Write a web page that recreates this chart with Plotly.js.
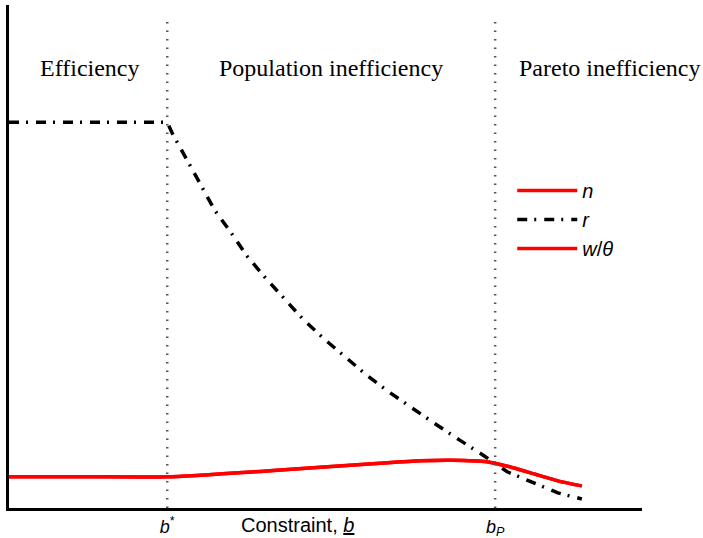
<!DOCTYPE html>
<html>
<head>
<meta charset="utf-8">
<script src="https://cdn.plot.ly/plotly-3.0.1.min.js"></script>
<style>html,body{margin:0;padding:0;background:#fff;}#chart{width:703px;height:538px;}</style>
</head>
<body>
<div id="chart"></div>
<script>
// Constraint values (abstract units)
const rX = [0, 2.50, 2.575, 2.81, 3.02, 3.25, 3.51, 3.76, 4.04, 4.34, 4.64, 4.98, 5.31, 5.67, 6.02, 6.38, 6.76, 7.12, 7.49, 7.87, 8.28, 8.67, 9.05];
const rY = [7.67, 7.67, 7.46, 6.92, 6.42, 5.92, 5.47, 5.01, 4.59, 4.17, 3.76, 3.36, 3.00, 2.62, 2.29, 1.97, 1.65, 1.35, 1.05, 0.72, 0.50, 0.30, 0.18];
const nX = [0, 1.25, 2.50, 4.12, 5.86, 6.49, 7.01, 7.55, 7.91, 8.34, 8.70, 9.05];
const nY = [0.62, 0.62, 0.62, 0.74, 0.89, 0.94, 0.95, 0.92, 0.82, 0.66, 0.53, 0.44];
const wX = nX;
const wY = nY;
// Regime boundaries
const bStar = 2.50;
const bP = 7.68;
const tickVals = [bStar, bP];
const tickText = ['<i>b</i><sup>*</sup>', '<i>b<sub>P</sub></i>'];
const regionLabels = ['Efficiency', 'Population inefficiency', 'Pareto inefficiency'];
const regionX = [1.28, 5.09, 9.48];

const traces = [
  {x: nX, y: nY, name: '<i>n</i>', mode: 'lines', line: {color: '#ff0000', width: 3.5, shape: 'spline', smoothing: 0.5}},
  {x: rX, y: rY, name: '<i>r</i>', mode: 'lines', line: {color: '#000000', width: 3.5, dash: '10px,7px,2px,8px', shape: 'linear'}},
  {x: wX, y: wY, name: '<i>w</i>/<i>θ</i>', mode: 'lines', line: {color: '#ff0000', width: 3.5, shape: 'spline', smoothing: 0.5}}
];

const shapes = [bStar, bP].map(v => ({
  type: 'line', xref: 'x', yref: 'y', x0: v, x1: v, y0: 0, y1: 9.8,
  line: {color: '#555', width: 2.5, dash: '1.5px,7px'}
}));

const annotations = regionLabels.map((t, i) => ({
  text: t, x: regionX[i], xref: 'x', y: 0.875, yref: 'paper', showarrow: false,
  xanchor: 'center', yanchor: 'middle',
  font: {family: 'Liberation Serif, serif', size: 24, color: '#000'}
}));
annotations.push({
  text: 'Constraint, <u><i>b</i></u>', x: 4.55, xref: 'x', y: -0.034, yref: 'paper',
  showarrow: false, xanchor: 'center', yanchor: 'middle',
  font: {family: 'Liberation Sans, Arial, sans-serif', size: 20, color: '#000'}
});

const layout = {
  width: 703, height: 538,
  margin: {l: 9, r: 61, t: 5, b: 30},
  paper_bgcolor: '#fff', plot_bgcolor: '#fff',
  showlegend: true,
  legend: {x: 0.795, y: 0.67, xanchor: 'left', yanchor: 'top', bgcolor: 'rgba(0,0,0,0)', itemwidth: 60,
    font: {family: 'Liberation Sans, Arial, sans-serif', size: 20, color: '#000'}, tracegroupgap: 0},
  xaxis: {range: [0, 10], showgrid: false, zeroline: false, showline: true, linecolor: '#000', linewidth: 3,
    tickmode: 'array', tickvals: tickVals, ticktext: tickText, ticks: '',
    tickfont: {family: 'Liberation Sans, Arial, sans-serif', size: 18, color: '#000'}},
  yaxis: {range: [0, 10], showgrid: false, zeroline: false, showline: true, linecolor: '#000', linewidth: 3,
    showticklabels: false, ticks: ''},
  shapes: shapes,
  annotations: annotations
};

Plotly.newPlot('chart', traces, layout, {displayModeBar: false, staticPlot: true});
</script>
</body>
</html>
